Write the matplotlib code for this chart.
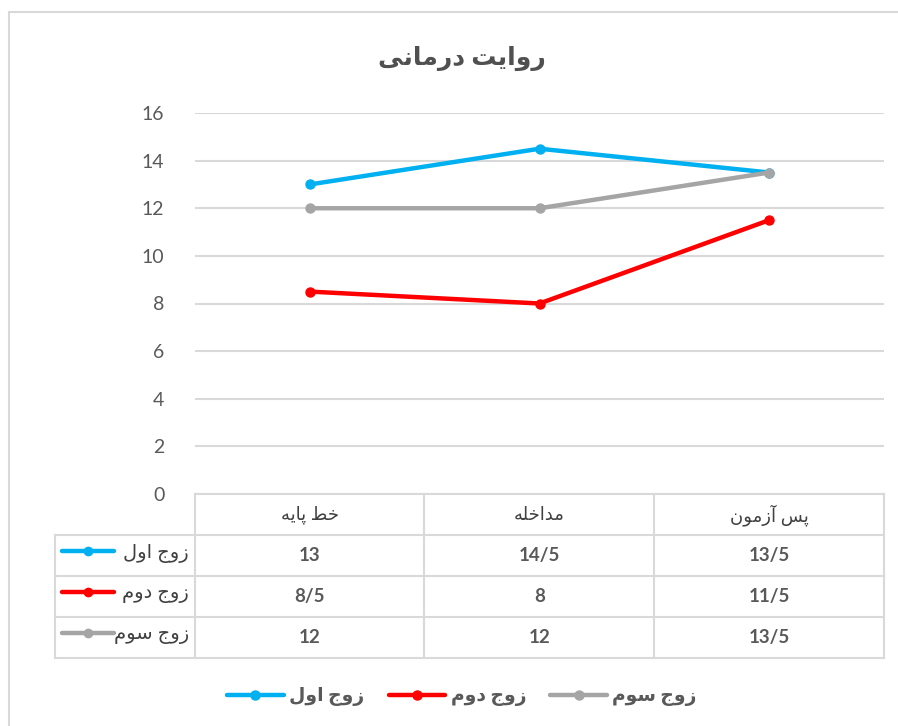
import matplotlib
matplotlib.use("Agg")
import matplotlib.pyplot as plt
from matplotlib.patches import Rectangle
from matplotlib.lines import Line2D
import matplotlib.transforms as mtrans

plt.rcParams['font.family'] = ['Lato', 'DejaVu Sans']

# ---------------- data ----------------
title = "روایت درمانی"
categories = ["خط پایه", "مداخله", "پس آزمون"]
series_names = ["زوج اول", "زوج دوم", "زوج سوم"]
series_values = [
    [13, 14.5, 13.5],
    [8.5, 8, 11.5],
    [12, 12, 13.5],
]
table_texts = [
    ["13", "14/5", "13/5"],
    ["8/5", "8", "11/5"],
    ["12", "12", "13/5"],
]
yticks = [0, 2, 4, 6, 8, 10, 12, 14, 16]
colors = ["#00B0F0", "#FF0000", "#A5A5A5"]

# ------------- minimal Arabic/Persian shaping for display -------------
FORMS = {
    '\u0627': ('\uFE8D', '\uFE8E', None, None),
    '\u0622': ('\uFE81', '\uFE82', None, None),
    '\u062F': ('\uFEA9', '\uFEAA', None, None),
    '\u0631': ('\uFEAD', '\uFEAE', None, None),
    '\u0632': ('\uFEAF', '\uFEB0', None, None),
    '\u0648': ('\uFEED', '\uFEEE', None, None),
    '\u062A': ('\uFE95', '\uFE96', '\uFE97', '\uFE98'),
    '\u062C': ('\uFE9D', '\uFE9E', '\uFE9F', '\uFEA0'),
    '\u062E': ('\uFEA5', '\uFEA6', '\uFEA7', '\uFEA8'),
    '\u0633': ('\uFEB1', '\uFEB2', '\uFEB3', '\uFEB4'),
    '\u0637': ('\uFEC1', '\uFEC2', '\uFEC3', '\uFEC4'),
    '\u0644': ('\uFEDD', '\uFEDE', '\uFEDF', '\uFEE0'),
    '\u0645': ('\uFEE1', '\uFEE2', '\uFEE3', '\uFEE4'),
    '\u0646': ('\uFEE5', '\uFEE6', '\uFEE7', '\uFEE8'),
    '\u0647': ('\uFEE9', '\uFEEA', '\uFEEB', '\uFEEC'),
    '\u06CC': ('\uFBFC', '\uFBFD', '\uFBFE', '\uFBFF'),
    '\u067E': ('\uFB56', '\uFB57', '\uFB58', '\uFB59'),
}


def shape(s):
    out = []
    for i, c in enumerate(s):
        if c not in FORMS:
            out.append(c)
            continue
        f = FORMS[c]
        prev = s[i - 1] if i > 0 else None
        nxt = s[i + 1] if i + 1 < len(s) else None
        jp = prev in FORMS and FORMS[prev][2] is not None
        jn = f[2] is not None and nxt in FORMS
        if jp and jn:
            g = f[3]
        elif jp:
            g = f[1]
        elif jn:
            g = f[2]
        else:
            g = f[0]
        out.append(g)
    return ''.join(reversed(out))


# ---------------- figure ----------------
W, H = 898, 726
fig = plt.figure(figsize=(W / 100, H / 100), dpi=100)
fig.patch.set_facecolor("white")


def fx(px):
    return px / W


def fy(py):
    return 1 - py / H


text_col = "#595959"
grid_col = "#D9D9D9"

# outer chart border
fig.add_artist(Rectangle((fx(9), fy(760)), fx(950), 748 / H, transform=fig.transFigure,
                         fill=False, edgecolor=grid_col, lw=1.5))

ax = fig.add_axes([fx(195), fy(494), fx(884 - 195), (494 - 113) / H])
x = list(range(len(categories)))
for vals, col, name in zip(series_values, colors, series_names):
    ax.plot(x, vals, color=col, lw=3.2, marker='o', markersize=6.5,
            solid_capstyle='round', label=shape(name), zorder=3)

ax.set_xlim(-0.5, len(categories) - 0.5)
ax.set_ylim(0, 16)
ax.set_yticks(yticks)
ax.set_yticklabels([str(v) for v in yticks], fontsize=14, color=text_col)
ax.set_xticks([])
ax.tick_params(axis='y', length=0, pad=22)
ax.grid(axis='y', color=grid_col, lw=1.5)
ax.set_axisbelow(True)
for sp in ax.spines.values():
    sp.set_visible(False)

fig.text(fx(462), fy(58), shape(title), ha='center', va='center', fontsize=18,
         fontweight='bold', color="#505050")

# ---------------- data table ----------------
row_edges = [494, 535, 576, 617, 658]
col_edges = [195, 424, 654, 884]
label_left = 55
line_kw = dict(color=grid_col, lw=1.5, transform=fig.transFigure)
# horizontal lines
fig.add_artist(Line2D([fx(195), fx(884)], [fy(494), fy(494)], **line_kw))
for r in row_edges[1:]:
    fig.add_artist(Line2D([fx(label_left), fx(884)], [fy(r), fy(r)], **line_kw))
# vertical lines
for c in col_edges:
    fig.add_artist(Line2D([fx(c), fx(c)], [fy(494), fy(658)], **line_kw))
fig.add_artist(Line2D([fx(label_left), fx(label_left)], [fy(535), fy(658)], **line_kw))

blend = mtrans.blended_transform_factory(ax.transData, fig.transFigure)
# header
for i, cat in enumerate(categories):
    fig.text(i, fy(515), shape(cat), transform=blend, ha='center', va='center',
             fontsize=13, color="#404040")
# rows
for r, (name, col, texts) in enumerate(zip(series_names, colors, table_texts)):
    yc = fy((row_edges[r + 1] + row_edges[r + 2]) / 2)
    for i, t in enumerate(texts):
        fig.text(i, yc, t, transform=blend, ha='center', va='center',
                 fontsize=13.5, fontweight='bold', color=text_col)
    fig.text(fx(189), yc + 0.003, shape(name), ha='right', va='center', fontsize=14,
             color="#404040")
    fig.add_artist(Line2D([fx(62), fx(114)], [yc + 0.006, yc + 0.006], color=col, lw=3.2,
                          solid_capstyle='round', transform=fig.transFigure))
    fig.add_artist(Line2D([fx(88)], [yc + 0.006], color=col, marker='o', markersize=6,
                          transform=fig.transFigure))

# ---------------- legend ----------------
leg = fig.legend(loc='center', bbox_to_anchor=(fx(462), fy(697)), ncol=3, frameon=False,
                 handlelength=3.0, columnspacing=1.3, handletextpad=0.3,
                 prop={'size': 13.5, 'weight': 'bold'})
for t in leg.get_texts():
    t.set_color(text_col)

fig.savefig("out.png", dpi=100)
